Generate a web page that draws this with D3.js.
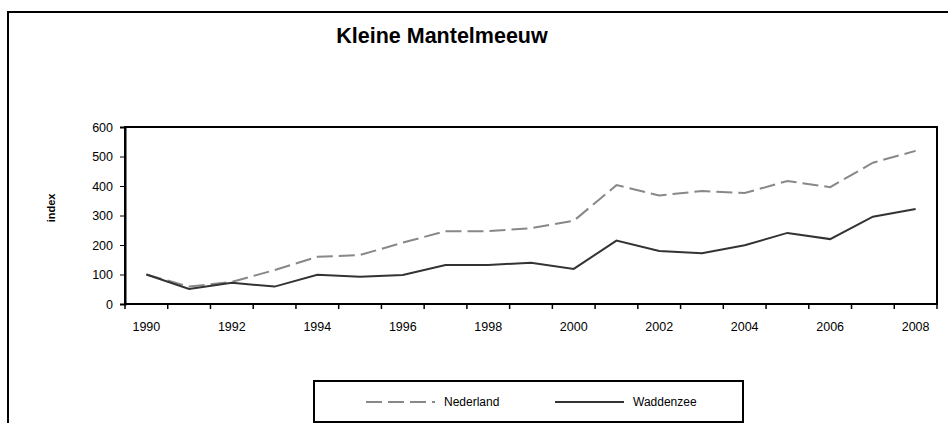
<!DOCTYPE html>
<html lang="nl">
<head>
    <meta charset="UTF-8">
    <title>Kleine Mantelmeeuw</title>
    <script src="https://d3js.org/d3.v7.min.js"></script>
    <style>
        body {
            margin: 0;
            background: #fff;
            font-family: Arial, 'Liberation Sans', sans-serif;
        }
        svg { display: block; }
        .tick text { font-size: 12.5px; fill: #000; }
    </style>
</head>
<body>
    <svg width="948" height="423"></svg>
    <script>
        const years = d3.range(1990, 2009);
        const nederland = [100, 59, 75, 115, 160, 166, 208, 247, 247, 257, 282, 403, 368, 383, 376, 417, 396, 479, 519];
        const waddenzee = [100, 51, 72, 59, 99, 92, 98, 132, 132, 140, 119, 215, 180, 172, 199, 241, 220, 296, 322];
        const yTicks = [0, 100, 200, 300, 400, 500, 600];

        const svg = d3.select("svg");

        // outer chart frame (runs off the right and bottom edge)
        svg.append("rect")
            .attr("x", 8).attr("y", 12)
            .attr("width", 960).attr("height", 430)
            .attr("fill", "none").attr("stroke", "#000").attr("stroke-width", 2);

        svg.append("text")
            .attr("x", 442).attr("y", 43)
            .attr("text-anchor", "middle")
            .style("font-size", "21.5px").style("font-weight", "bold")
            .text("Kleine Mantelmeeuw");

        const plotL = 125, plotR = 937, plotT = 127, plotB = 304;

        const x = d3.scaleBand().domain(years).range([plotL, plotR]).padding(0);
        const y = d3.scaleLinear().domain([0, 600]).range([plotB, plotT]);
        const cx = d => x(d) + x.bandwidth() / 2;

        // plot border
        svg.append("rect")
            .attr("x", plotL).attr("y", plotT)
            .attr("width", plotR - plotL).attr("height", plotB - plotT)
            .attr("fill", "none").attr("stroke", "#000").attr("stroke-width", 2);

        // y axis
        const yAxis = svg.append("g")
            .attr("transform", `translate(${plotL},0)`)
            .call(d3.axisLeft(y).tickValues(yTicks).tickSize(5).tickPadding(7));
        yAxis.select(".domain").attr("stroke-width", 2);

        // x axis: ticks at category boundaries, labels at every other year
        const xg = svg.append("g").attr("transform", `translate(0,${plotB})`);
        xg.selectAll("line")
            .data(years.map(d => x(d)).concat([x(years[years.length - 1]) + x.bandwidth()]))
            .join("line")
            .attr("x1", d => d).attr("x2", d => d)
            .attr("y1", 0).attr("y2", 5)
            .attr("stroke", "#000").attr("stroke-width", 1.5);
        xg.selectAll("text")
            .data(years.filter(d => d % 2 === 0))
            .join("text")
            .attr("x", cx).attr("y", 27)
            .attr("text-anchor", "middle")
            .style("font-size", "12.5px")
            .text(d => d);

        svg.append("text")
            .attr("transform", "translate(55,208) rotate(-90)")
            .attr("text-anchor", "middle")
            .style("font-size", "11px").style("font-weight", "bold")
            .text("index");

        const line = d3.line().x((d, i) => cx(years[i])).y(d => y(d));

        svg.append("path")
            .datum(nederland)
            .attr("d", line)
            .attr("fill", "none").attr("stroke", "#888")
            .attr("stroke-width", 2).attr("stroke-dasharray", "16,6");

        svg.append("path")
            .datum(waddenzee)
            .attr("d", line)
            .attr("fill", "none").attr("stroke", "#333")
            .attr("stroke-width", 2);

        // legend
        const lg = svg.append("g");
        lg.append("rect")
            .attr("x", 314).attr("y", 381)
            .attr("width", 429).attr("height", 41)
            .attr("fill", "none").attr("stroke", "#000").attr("stroke-width", 2);
        const items = [
            { name: "Nederland", color: "#888", dash: "16,6", x: 366 },
            { name: "Waddenzee", color: "#333", dash: null, x: 555 }
        ];
        items.forEach(it => {
            lg.append("line")
                .attr("x1", it.x).attr("x2", it.x + 69)
                .attr("y1", 402).attr("y2", 402)
                .attr("stroke", it.color).attr("stroke-width", 2)
                .attr("stroke-dasharray", it.dash);
            lg.append("text")
                .attr("x", it.x + 78).attr("y", 406)
                .style("font-size", "12px")
                .text(it.name);
        });
    </script>
</body>
</html>
